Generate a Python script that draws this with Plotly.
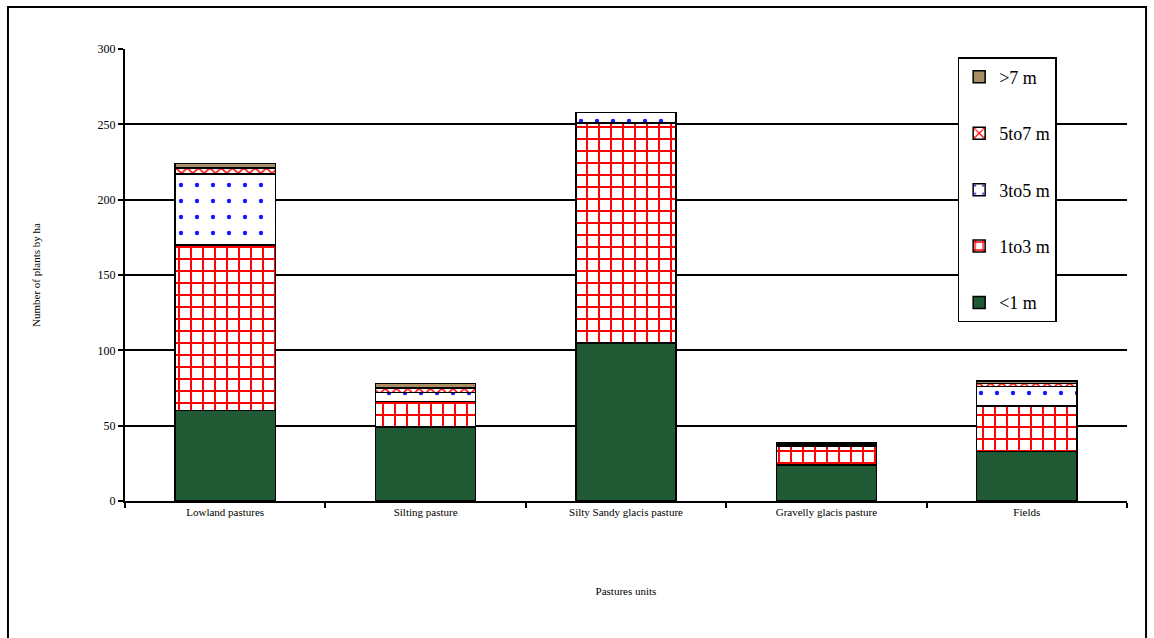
import plotly.graph_objects as go

# Pasture units on the x axis
categories = ["Lowland pastures", "Silting pasture", "Silty Sandy glacis pasture",
              "Gravelly glacis pasture", "Fields"]

# Plant density (plants per ha) by height class
lt1 = [60, 49, 105, 24, 33]
h1to3 = [110, 17, 146, 12.5, 30]
h3to5 = [47, 6, 7, 0, 13]
h5to7 = [4, 3, 0, 1, 2]
gt7 = [3, 3, 0, 1, 1.5]

series = [
    ("<1 m", lt1, dict(color="#1f5a35", pattern=dict(shape="")), 5),
    ("1to3 m", h1to3, dict(color="white", pattern=dict(shape="+", fgcolor="#ff0000", bgcolor="white",
                                                          fgopacity=1, size=12, solidity=0.3)), 4),
    ("3to5 m", h3to5, dict(color="white", pattern=dict(shape=".", fgcolor="#1a1aff", bgcolor="white",
                                                          fgopacity=1, size=16, solidity=0.06)), 3),
    ("5to7 m", h5to7, dict(color="white", pattern=dict(shape="x", fgcolor="#ff0000", bgcolor="white",
                                                          fgopacity=1, size=8, solidity=0.35)), 2),
    (">7 m", gt7, dict(color="#a88c62", pattern=dict(shape="")), 1),
]

serif = "Liberation Serif"

fig = go.Figure()
for name, vals, marker, rank in series:
    fig.add_trace(go.Bar(
        x=categories, y=vals, name=name, legendgroup=name, legendrank=rank,
        marker=dict(**marker, line=dict(color="black", width=1.5)),
    ))

fig.update_layout(
    width=1154, height=638,
    barmode="stack", bargap=0.5,
    margin=dict(l=125, r=27, t=49, b=137),
    paper_bgcolor="white", plot_bgcolor="white",
    font=dict(family=serif, color="black", size=12),
    showlegend=True,
    legend=dict(
        x=0.831, y=0.982, xanchor="left", yanchor="top",
        bgcolor="white", bordercolor="black", borderwidth=1.5,
        font=dict(family=serif, size=18, color="black"),
        traceorder="grouped", tracegroupgap=30,
        itemwidth=30,
    ),
    xaxis=dict(
        title=dict(text="Pastures units", font=dict(family=serif, size=11), standoff=70),
        tickfont=dict(family=serif, size=11),
        showline=True, linecolor="black", linewidth=2,
        ticks="outside", ticklen=5, tickcolor="black", tickwidth=2,
        tickson="boundaries", showgrid=False,
    ),
    yaxis=dict(
        title=dict(text="Number of plants by ha", font=dict(family=serif, size=11), standoff=55),
        range=[0, 300], dtick=50,
        tickfont=dict(family=serif, size=12),
        showline=True, linecolor="black", linewidth=2,
        ticks="outside", ticklen=5, tickcolor="black", tickwidth=2,
        showgrid=True, gridcolor="black", gridwidth=1.5,
        zeroline=False,
    ),
    shapes=[
        dict(type="rect", xref="paper", yref="paper",
             x0=-0.1168, x1=1.019, y0=-0.33, y1=1.093,
             line=dict(color="black", width=2), fillcolor="rgba(0,0,0,0)", layer="below"),
    ],
)

fig.write_html("out.html")
